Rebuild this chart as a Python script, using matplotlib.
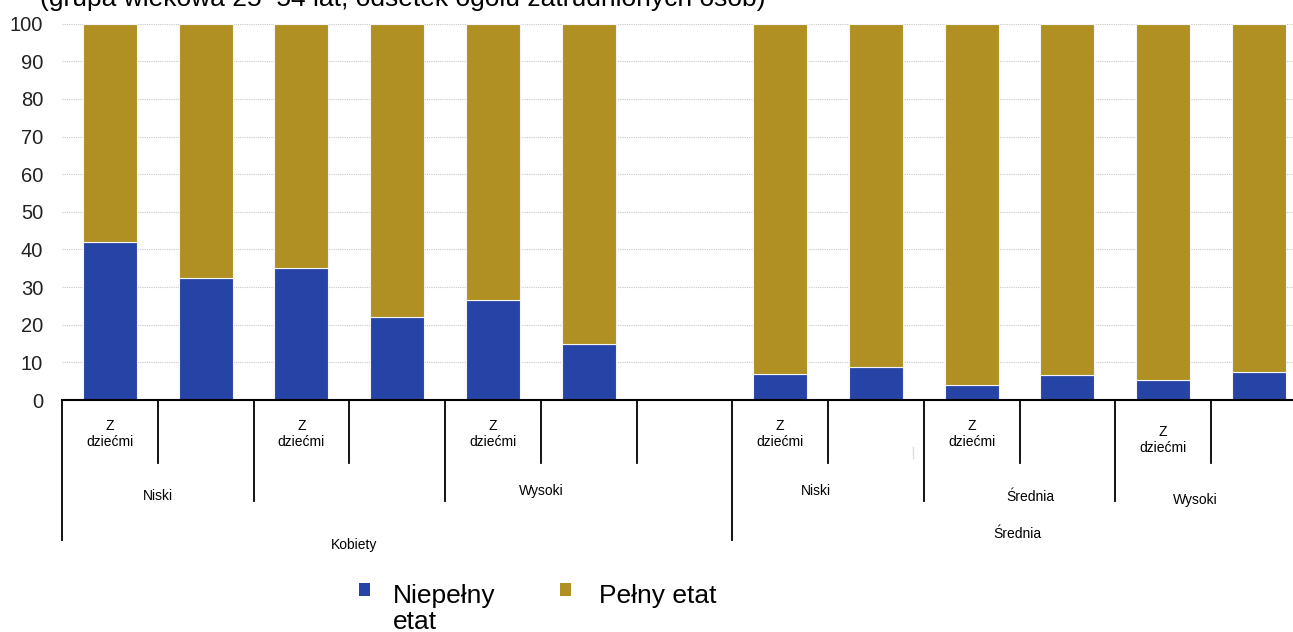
import matplotlib
matplotlib.use("Agg")
import numpy as np
import matplotlib.pyplot as plt
from matplotlib.transforms import blended_transform_factory
from matplotlib.patches import Rectangle
from matplotlib.lines import Line2D

plt.rcParams['font.family'] = ['Liberation Sans', 'DejaVu Sans']

# Udział zatrudnionych (%) wg wymiaru etatu; pozycja 7 to przerwa między grupami
niepelny_etat = [42.0, 32.3, 35.2, 22.0, 26.6, 15.0, np.nan, 7.0, 8.8, 3.9, 6.7, 5.3, 7.5]
pelny_etat = [58.0, 67.7, 64.8, 78.0, 73.4, 85.0, np.nan, 93.0, 91.2, 96.1, 93.3, 94.7, 92.5]

# Etykiety osi kategorii (trzy poziomy)
poziom1 = ["Z\ndziećmi", "", "Z\ndziećmi", "", "Z\ndziećmi", "", "",
           "Z\ndziećmi", "", "Z\ndziećmi", "", "Z\ndziećmi", ""]
poziom2 = ["Niski", "Wysoki", "Niski", "Średnia", "Wysoki"]
poziom3 = ["Kobiety", "Średnia"]
legenda = ["Niepełny\netat", "Pełny etat"]
yticks = list(range(0, 101, 10))

BLUE = "#2644A6"
GOLD = "#B09022"

W, H = 1293, 632
fig = plt.figure(figsize=(W / 100, H / 100), dpi=100)

slot = 95.75          # szerokość pozycji w pikselach
x0_px = 62            # lewa krawędź pierwszej pozycji
ax_right = 1293
y0_px, y100_px = 400, 23.7

ax = fig.add_axes([x0_px / W, (H - y0_px) / H,
                   (ax_right - x0_px) / W, (y0_px - y100_px) / H])
ax.set_xlim(-0.5, -0.5 + (ax_right - x0_px) / slot)
ax.set_ylim(0, 100)

x = np.arange(len(niepelny_etat))
bw = 54 / slot
ax.bar(x, niepelny_etat, width=bw, color=BLUE, edgecolor="#f4f4f4", linewidth=0.8, zorder=3)
ax.bar(x, pelny_etat, width=bw, bottom=niepelny_etat, color=GOLD,
       edgecolor="#f4f4f4", linewidth=0.8, zorder=3)

for s in ax.spines.values():
    s.set_visible(False)
ax.set_yticks(yticks)
ax.set_xticks([])
ax.tick_params(axis="y", length=0, pad=13.5, labelsize=14.5, labelcolor="#222222")
ax.yaxis.grid(True, color="#c8c8c8", linestyle=(0, (1, 1)), linewidth=0.8)
ax.set_axisbelow(True)

# oś pozioma
ax.plot([-0.5, ax.get_xlim()[1]], [0, 0], color="black", lw=1.5, clip_on=False, zorder=4)

tr = blended_transform_factory(ax.transData, fig.transFigure)
def fy(px):
    return 1 - px / H

def vline(xd, y_end):
    fig.add_artist(Line2D([xd, xd], [fy(400), fy(y_end)], transform=tr,
                          color="black", lw=1.3))

for b in [0.5, 2.5, 4.5, 5.5, 7.5, 9.5, 11.5]:
    vline(b, 463)
for b in [1.5, 3.5, 8.5, 10.5]:
    vline(b, 501)
for b in [-0.5, 6.5]:
    vline(b, 540)

def px2x(px):
    return (px - x0_px) / slot - 0.5

# drobny jasny znacznik
fig.add_artist(Line2D([px2x(913)] * 2, [fy(447), fy(458)],
                      transform=tr, color="#dddddd", lw=1.0))

fs = 10
for i, lab in enumerate(poziom1):
    if lab:
        yc = 434 if i != 11 else 440
        fig.text(i, fy(yc), lab, transform=tr, ha="center", va="center",
                 fontsize=fs, linespacing=1.25)

pos2 = [(158, 496), (541, 491), (816, 491), (1030, 497), (1195, 500)]
for lab, (px, py) in zip(poziom2, pos2):
    fig.text(px2x(px), fy(py), lab, transform=tr, ha="center", va="center", fontsize=fs)

pos3 = [(354, 545), (1017, 534)]
for lab, (px, py) in zip(poziom3, pos3):
    fig.text(px2x(px), fy(py), lab, transform=tr, ha="center", va="center", fontsize=fs)

# legenda
for (mx, tx), lab, col in zip([(359, 393), (560, 599)], legenda, [BLUE, GOLD]):
    fig.add_artist(Rectangle((mx / W, fy(596)), 11 / W, 13 / H,
                             transform=fig.transFigure, color=col, lw=0))
    fig.text(tx / W, fy(584), lab, ha="left", va="top", fontsize=19,
             linespacing=1.1)

# podtytuł (częściowo poza kadrem)
fig.text(40 / W, fy(6), "(grupa wiekowa 25–54 lat, odsetek ogółu zatrudnionych osób)",
         ha="left", va="baseline", fontsize=19)

fig.savefig("out.png", dpi=100)
